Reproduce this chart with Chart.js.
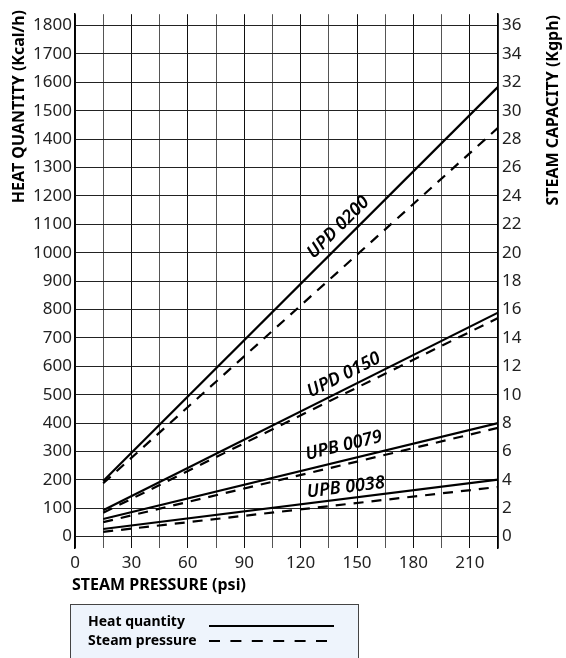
<!DOCTYPE html>
<html>
<head>
<meta charset="utf-8">
<script src="https://cdn.jsdelivr.net/npm/chart.js@4"></script>
<style>
  html, body { margin: 0; padding: 0; background: #fff; }
  #wrap { width: 566px; height: 658px; }
</style>
</head>
<body>
<div id="wrap"><canvas id="steamChart" width="566" height="658"></canvas></div>
<script>
// pressure points (psi) where the curves start and end
const pressure = [15, 225];
const models = ['UPD 0200', 'UPD 0150', 'UPB 0079', 'UPB 0038'];
// heat quantity (Kcal/h), left axis
const heatUPD0200 = [196, 1584];
const heatUPD0150 = [93, 789];
const heatUPB0079 = [62, 400];
const heatUPB0038 = [27, 201];
// steam capacity (Kgph), right axis
const capUPD0200 = [3.76, 28.8];
const capUPD0150 = [1.68, 15.4];
const capUPB0079 = [1.02, 7.66];
const capUPB0038 = [0.34, 3.5];
// where the model names sit (psi, Kcal/h)
const labelPsi = [140, 143, 143, 144];
const labelHeat = [1089, 569, 320, 173];
// tick labels
const xTicks = [0, 15, 30, 45, 60, 75, 90, 105, 120, 135, 150, 165, 180, 195, 210, 225];
const heatTicks = [0, 100, 200, 300, 400, 500, 600, 700, 800, 900, 1000, 1100, 1200, 1300, 1400, 1500, 1600, 1700, 1800];
const capTicks = [0, 2, 4, 6, 8, 10, 12, 14, 16, 18, 20, 22, 24, 26, 28, 30, 32, 34, 36];

const FONT = "'Noto Sans', 'Open Sans', sans-serif";
const heatSets = [heatUPD0200, heatUPD0150, heatUPB0079, heatUPB0038];
const capSets = [capUPD0200, capUPD0150, capUPB0079, capUPB0038];

const datasets = [];
models.forEach((m, i) => {
  datasets.push({
    label: m + ' heat',
    data: pressure.map((p, k) => ({ x: p, y: heatSets[i][k] })),
    yAxisID: 'y',
    borderColor: '#000',
    borderWidth: 2.2,
    pointRadius: 0,
    fill: false
  });
  datasets.push({
    label: m + ' steam',
    data: pressure.map((p, k) => ({ x: p, y: capSets[i][k] })),
    yAxisID: 'y2',
    borderColor: '#000',
    borderWidth: 2.2,
    borderDash: [10, 8],
    pointRadius: 0,
    fill: false
  });
});

// axis titles, model names and the legend box
const extras = {
  id: 'extras',
  afterDatasetsDraw(chart) {
    const ctx = chart.ctx;
    const xs = chart.scales.x, ys = chart.scales.y;
    ctx.save();
    ctx.fillStyle = '#000';
    ctx.font = 'italic 600 18px ' + FONT;
    ctx.textAlign = 'center';
    ctx.textBaseline = 'middle';
    models.forEach((m, i) => {
      const x1 = xs.getPixelForValue(pressure[0]), x2 = xs.getPixelForValue(pressure[1]);
      const y1 = ys.getPixelForValue(heatSets[i][0]), y2 = ys.getPixelForValue(heatSets[i][1]);
      const ang = Math.atan2(y2 - y1, x2 - x1);
      ctx.save();
      ctx.translate(xs.getPixelForValue(labelPsi[i]), ys.getPixelForValue(labelHeat[i]));
      ctx.rotate(ang);
      ctx.fillText(m, 0, 0);
      ctx.restore();
    });
    ctx.restore();
  },
  afterDraw(chart) {
    const ctx = chart.ctx;
    ctx.save();
    ctx.fillStyle = '#000';
    ctx.font = 'bold 16px ' + FONT;
    ctx.textBaseline = 'middle';
    // left title
    ctx.save();
    ctx.translate(19, 10);
    ctx.rotate(-Math.PI / 2);
    ctx.textAlign = 'right';
    ctx.fillText('HEAT QUANTITY (Kcal/h)', 0, 0);
    ctx.restore();
    // right title
    ctx.save();
    ctx.translate(553, 15);
    ctx.rotate(-Math.PI / 2);
    ctx.textAlign = 'right';
    ctx.fillText('STEAM CAPACITY (Kgph)', 0, 0);
    ctx.restore();
    // x title
    ctx.textAlign = 'left';
    ctx.fillText('STEAM PRESSURE (psi)', 72, 585);

    // legend
    ctx.fillStyle = '#eef4fc';
    ctx.fillRect(70.5, 604.5, 288, 70);
    ctx.strokeStyle = '#444';
    ctx.lineWidth = 1;
    ctx.strokeRect(70.5, 604.5, 288, 70);
    ctx.fillStyle = '#000';
    ctx.font = 'bold 14px ' + FONT;
    ctx.fillText('Heat quantity', 88, 622);
    ctx.fillText('Steam pressure', 88, 641);
    ctx.strokeStyle = '#000';
    ctx.lineWidth = 2;
    ctx.beginPath();
    ctx.moveTo(209, 626);
    ctx.lineTo(334, 626);
    ctx.stroke();
    ctx.setLineDash([11, 10.4]);
    ctx.beginPath();
    ctx.moveTo(209, 641);
    ctx.lineTo(327, 641);
    ctx.stroke();
    ctx.restore();
  }
};

new Chart(document.getElementById('steamChart'), {
  type: 'line',
  data: { datasets },
  options: {
    responsive: false,
    animation: false,
    layout: { padding: { top: 12, left: 0, right: 0, bottom: 0 } },
    plugins: { legend: { display: false }, tooltip: { enabled: false } },
    scales: {
      x: {
        type: 'linear',
        min: 0,
        max: 225,
        afterFit: s => { s.height = 110; },
        afterBuildTicks: s => { s.ticks = xTicks.map(v => ({ value: v })); },
        ticks: {
          autoSkip: false,
          maxRotation: 0,
          padding: 5,
          color: '#222',
          font: { family: FONT, size: 17 },
          callback: v => (v % 30 === 0 && v <= 210 ? String(v) : '')
        },
        grid: {
          drawTicks: false,
          color: c => (c.tick && c.tick.value % 30 === 0 ? '#111' : '#555'),
          lineWidth: 1
        },
        border: { display: false }
      },
      y: {
        position: 'left',
        min: -40,
        max: 1840,
        afterFit: s => { s.width = 75; },
        afterBuildTicks: s => { s.ticks = heatTicks.map(v => ({ value: v })); },
        ticks: {
          padding: 3,
          color: '#222',
          font: { family: FONT, size: 17 },
          callback: v => String(v)
        },
        grid: { drawTicks: false, color: '#222', lineWidth: 1 },
        border: { display: true, color: '#000', width: 1.5 }
      },
      y2: {
        position: 'right',
        min: -0.8,
        max: 36.8,
        afterFit: s => { s.width = 68; },
        afterBuildTicks: s => { s.ticks = capTicks.map(v => ({ value: v })); },
        ticks: {
          padding: 4,
          color: '#222',
          font: { family: FONT, size: 17 },
          callback: v => String(v)
        },
        grid: { display: false, drawTicks: false },
        border: { display: true, color: '#000', width: 1.5 }
      }
    }
  },
  plugins: [extras]
});
</script>
</body>
</html>
